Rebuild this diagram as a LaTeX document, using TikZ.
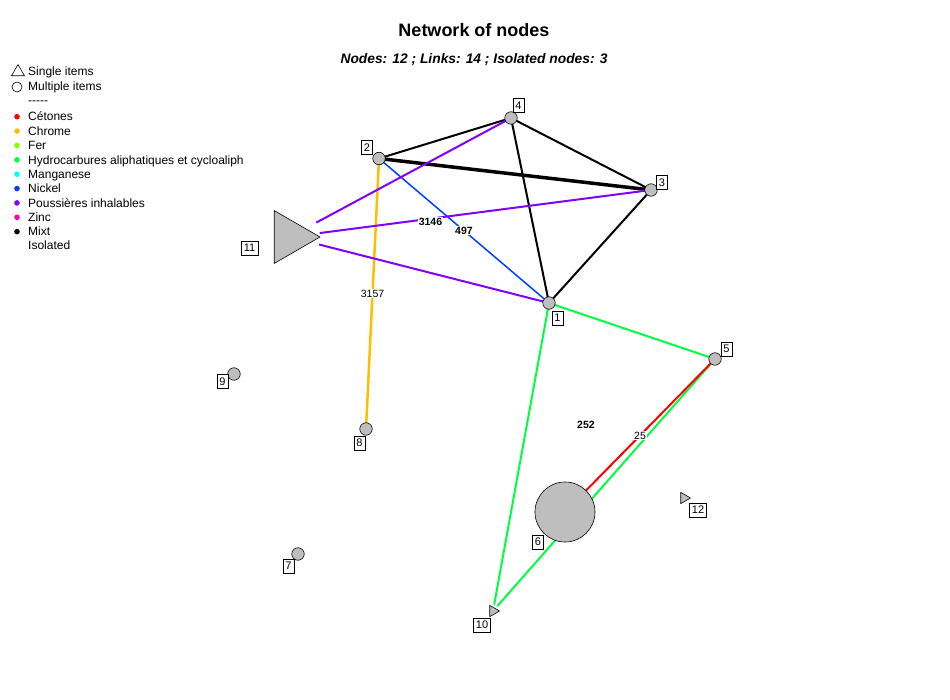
\documentclass[tikz,border=0pt]{standalone}
\usepackage{fontspec}
\setmainfont{Liberation Sans}
\usetikzlibrary{positioning,shapes.geometric,backgrounds}

\definecolor{cetones}{HTML}{FF0000}
\definecolor{chrome}{HTML}{FFBF00}
\definecolor{fer}{HTML}{80FF00}
\definecolor{hydro}{HTML}{00FF40}
\definecolor{manganese}{HTML}{00FFFF}
\definecolor{nickel}{HTML}{0040FF}
\definecolor{poussieres}{HTML}{8000FF}
\definecolor{zinc}{HTML}{FF00BF}
\definecolor{nodegray}{HTML}{BEBEBE}

\tikzset{multi/.style={ % Circle for nodes with multiple items
            circle, draw, semithick,
            fill=nodegray, inner sep=0pt, minimum size=12.5pt},
        single/.style={ % Triangle for nodes with a single item
            regular polygon, regular polygon sides=3,
            shape border rotate=-90, % Points to the right
            draw, semithick, fill=nodegray, inner sep=0pt, minimum size=14pt},
        tag/.style={ % Boxed node number
            draw, fill=white, inner xsep=2.5pt, inner ysep=1pt,
            minimum height=14pt,
            font=\fontsize{11}{11}\selectfont},
        lbl/.style={ % Weight written on a link
            fill=white, inner sep=1pt,
            font=\fontsize{10.5}{10.5}\selectfont},
        lblb/.style={lbl, font=\fontsize{10.5}{10.5}\selectfont\bfseries},
        legend/.style={anchor=base west, inner sep=0pt,
            font=\fontsize{12}{12}\selectfont},
        every edge/.style={ % Sets the properties for each link
            draw, line width=2pt},
        mixt/.style={draw=black},
        cetonesL/.style={draw=cetones},
        chromeL/.style={draw=chrome, line width=2.5pt},
        hydroL/.style={draw=hydro},
        nickelL/.style={draw=nickel, line width=1.5pt},
        poussL/.style={draw=poussieres, shorten <=30.5pt} % Starts off the big triangle
        }

\begin{document}
\begin{tikzpicture}[x=1pt, y=-1pt]
    \useasboundingbox (0,0) rectangle (950,700);

    % titles
    \node[font=\fontsize{18}{18}\selectfont\bfseries] (title) at (474,30) {Network of nodes};
    \node[font=\fontsize{13.8}{14}\selectfont\bfseries\itshape] (subtitle) at (474,60)
        {Nodes: 12 ; Links: 14 ; Isolated nodes: 3};

    % legend
    \node[single, fill=none, shape border rotate=0, minimum size=15pt] (legsingle) at (18,72) {};
    \node[legend] (txtsingle) at (28,76) {Single items};
    \node[multi, fill=none, minimum size=10pt] (legmulti) at (17,87) {};
    \node[legend] (txtmulti) at (28,91) {Multiple items};
    \node[legend] (txtsep) at (28,105) {-{}-{}-{}-{}-};
    \foreach \name/\col [count=\i] in {C\'etones/cetones, Chrome/chrome, Fer/fer,
            Hydrocarbures aliphatiques et cycloaliph/hydro, Manganese/manganese,
            Nickel/nickel, Poussi\`eres inhalables/poussieres, Zinc/zinc, Mixt/black}
    {
        \fill[\col] (17,{116.7+14.37*(\i-1)}) circle (2.8pt);
        \node[legend] (leg\i) at (28,{121+14.37*(\i-1)}) {\name};
    }
    \node[legend] (txtisolated) at (28,249.5) {Isolated};

    % nodes
    \node[multi] (n1) at (549,303) {};
    \node[multi] (n2) at (379,158.5) {};
    \node[multi] (n3) at (651,190) {};
    \node[multi] (n4) at (511,118) {};
    \node[multi] (n5) at (715,359) {};
    \node[multi, minimum size=60pt] (n6) at (565,512) {};
    \node[multi] (n7) at (298,554) {};
    \node[multi] (n8) at (366,429) {};
    \node[multi] (n9) at (234,374) {};
    \node[single, minimum size=13pt] (n10) at (493,611) {};
    \node[single, minimum size=61pt] (n11) at (289.5,237) {};
    \node[single, minimum size=13pt] (n12) at (684,498) {};

    % numbers
    \node[tag] (t1) at (557.5,318) {1};
    \node[tag] (t2) at (367,147.5) {2};
    \node[tag] (t3) at (662,182.5) {3};
    \node[tag] (t4) at (518.5,105.5) {4};
    \node[tag] (t5) at (726.5,349) {5};
    \node[tag] (t6) at (538,542) {6};
    \node[tag] (t7) at (288.5,566) {7};
    \node[tag] (t8) at (359.5,443) {8};
    \node[tag] (t9) at (222.5,381.5) {9};
    \node[tag] (t10) at (482,625) {10};
    \node[tag] (t11) at (249.5,248) {11};
    \node[tag] (t12) at (698,510) {12};

    \node[lblb] (w252) at (586,425) {252};

    % links
    \begin{scope}[on background layer]
    \draw
        (n2.center)
            edge [mixt] (n4.center)
            edge [mixt, line width=3.5pt] (n3.center)
            edge [nickelL] node [lblb] {497} (n1.center)
            edge [chromeL] node [lbl] {3157} (n8.center)
        (n4.center)
            edge [mixt] (n3.center)
            edge [mixt] (n1.center)
        (n3.center)
            edge [mixt] (n1.center)
        (n11.center)
            edge [poussL] (n4.center)
            edge [poussL] node [lblb, pos=0.39, yshift=-3pt] {3146} (n3.center)
            edge [poussL] (n1.center)
        (n1.center)
            edge [hydroL] (n5.center)
            edge [hydroL, shorten >=6.5pt] (n10.center)
        (n5.center)
            edge [hydroL, shorten >=6.5pt] (n10.center)
            edge [cetonesL] node [lbl] {25} (n6.center);
    \end{scope}
\end{tikzpicture}
\end{document}
